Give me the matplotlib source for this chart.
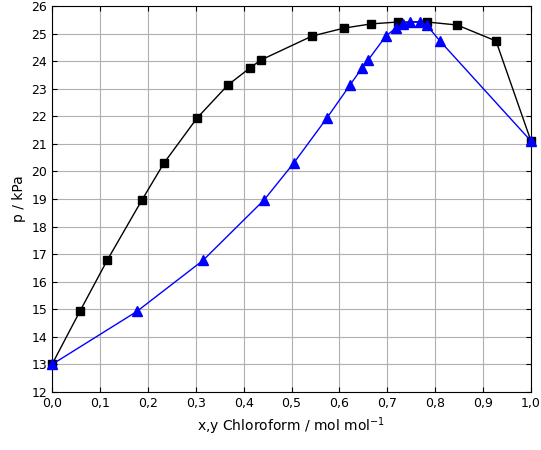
import matplotlib
matplotlib.use("Agg")
import matplotlib.pyplot as plt
import numpy as np

p = [13.0, 14.92, 16.77, 18.97, 20.31, 21.94, 23.13, 23.75, 24.04, 24.91, 25.2, 25.35, 25.42, 25.42, 25.31, 24.73, 21.1]
x_liq = [0.0, 0.058, 0.115, 0.188, 0.234, 0.303, 0.367, 0.413, 0.436, 0.543, 0.610, 0.666, 0.722, 0.783, 0.846, 0.927, 1.0]
y_vap = [0.0, 0.177, 0.315, 0.443, 0.505, 0.574, 0.622, 0.647, 0.660, 0.697, 0.718, 0.733, 0.748, 0.768, 0.782, 0.810, 1.0]

fig = plt.figure(figsize=(5.41, 4.5), dpi=100)
ax = fig.add_axes([52/541, 1-392/450, 479/541, 386/450])
ax.plot(x_liq, p, '-s', color='black', lw=1, ms=6, clip_on=False, zorder=3)
ax.plot(y_vap, p, '-^', color='blue', lw=1, ms=7, clip_on=False, zorder=3)
ax.set_xlim(0, 1)
ax.set_ylim(12, 26)
ax.set_xticks(np.arange(0, 1.01, 0.1))
ax.set_yticks(np.arange(12, 27, 1))
ax.set_xticklabels([f"{v:.1f}".replace('.', ',') for v in np.arange(0, 1.01, 0.1)])
ax.grid(True, color='#b0b0b0', lw=0.8)
ax.set_axisbelow(True)
ax.tick_params(direction='in', top=True, right=True, labelsize=9)
ax.set_xlabel("x,y Chloroform / mol mol$^{-1}$", fontsize=10)
ax.set_ylabel("p / kPa", fontsize=10)
fig.savefig("out.png", dpi=100)
